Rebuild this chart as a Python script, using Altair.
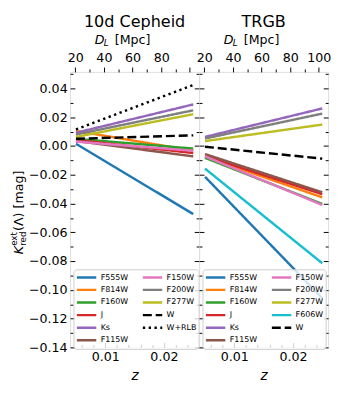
import altair as alt
import pandas as pd

FONT = "DejaVu Sans"

# redshift endpoints of every curve
Z = [0.005, 0.025]

# 10d Cepheid panel
ceph_bands = ["F555W", "F814W", "F160W", "J", "Ks", "F115W", "F150W", "F200W", "F277W", "W", "W+RLB"]
ceph_start = [0.0015, 0.0105, 0.0050, 0.0042, 0.0092, 0.0035, 0.0030, 0.0080, 0.0063, 0.0050, 0.0115]
ceph_end = [-0.0473, -0.0033, -0.0018, -0.0049, 0.0289, -0.0072, -0.0033, 0.0248, 0.0221, 0.0074, 0.0424]

# TRGB panel
trgb_bands = ["F555W", "F814W", "F160W", "J", "Ks", "F115W", "F150W", "F200W", "F277W", "F606W", "W"]
trgb_start = [-0.0214, -0.0075, -0.0082, -0.0070, 0.0063, -0.0056, -0.0072, 0.0052, 0.0034, -0.0157, -0.0005]
trgb_end = [-0.1058, -0.0357, -0.0403, -0.0335, 0.0261, -0.0322, -0.0410, 0.0225, 0.0149, -0.0815, -0.0088]

COLORS = {
    "F555W": "#1f77b4", "F814W": "#ff7f0e", "F160W": "#2ca02c", "J": "#d62728",
    "Ks": "#9467bd", "F115W": "#8c564b", "F150W": "#e377c2", "F200W": "#7f7f7f",
    "F277W": "#bcbd22", "F606W": "#17becf", "W": "#000000", "W+RLB": "#000000",
}
DASHES = {b: [1, 0] for b in COLORS}
DASHES["W"] = [9.25, 4]
DASHES["W+RLB"] = [2.4, 3.6]

# axes
X_DOMAIN = [0.004, 0.026]
Y_DOMAIN = [-0.14, 0.0515]
X_MAJOR = [0.01, 0.02]
X_MINOR = [0.006, 0.008, 0.012, 0.014, 0.016, 0.018, 0.022, 0.024]
Y_MAJOR = [-0.14, -0.12, -0.10, -0.08, -0.06, -0.04, -0.02, 0.0, 0.02, 0.04]
Y_MINOR = [-0.13, -0.11, -0.09, -0.07, -0.05, -0.03, -0.01, 0.01, 0.03, 0.05]
DL_MAJOR = [20, 40, 60, 80, 100]
DL_MINOR = [30, 50, 70, 90]
C_KMS = 299792.458
H0 = 73.2
MPC_PER_Z = C_KMS / H0


def z_of(d):
    return d / MPC_PER_Z


W, H = 133, 284


def make_df(bands, start, end):
    rows = []
    for b, s, e in zip(bands, start, end):
        rows.append({"band": b, "z": Z[0], "k": s})
        rows.append({"band": b, "z": Z[1], "k": e})
    return pd.DataFrame(rows)


def ax(**kw):
    base = dict(domain=False, grid=False, tickColor="black", tickWidth=1,
                labelFont=FONT, labelFontSize=13, labelColor="black", title=None)
    base.update(kw)
    return alt.Axis(**base)


def txt(text, x, y, size=13, baseline="alphabetic", **kw):
    one = pd.DataFrame({"a": [0]})
    return alt.Chart(one).mark_text(text=text, font=FONT, fontSize=size, color="black",
                                    baseline=baseline, **kw).encode(x=alt.value(x), y=alt.value(y))


def panel(df, order, title, left, show100):
    xs = alt.Scale(domain=X_DOMAIN, nice=False, zero=False)
    ys = alt.Scale(domain=Y_DOMAIN, nice=False, zero=False)
    leg = alt.Legend(title=None, orient="none", legendX=3.5, legendY=203.5, columns=2,
                     symbolType="stroke", symbolSize=400, symbolStrokeWidth=2.5,
                     labelFont=FONT, labelFontSize=8.2, labelColor="black", clipHeight=12.4,
                     rowPadding=0, columnPadding=13, padding=2, labelOffset=3,
                     fillColor="rgba(255,255,255,0.8)", strokeColor="#cccccc", cornerRadius=3)
    base = alt.Chart(df)
    lines = base.mark_line(strokeWidth=2.5).encode(
        x=alt.X("z:Q", scale=xs, axis=ax(orient="bottom", values=X_MAJOR, format=".2f", tickSize=5,
                                          offset=-5, labelPadding=4, title="z", titleFont=FONT,
                                          titleFontSize=14, titleFontStyle="italic",
                                          titleFontWeight="normal", titleColor="black", titlePadding=5)),
        y=alt.Y("k:Q", scale=ys, axis=ax(orient="left", values=Y_MAJOR, format=".2f", tickSize=5,
                                          offset=-5, labelPadding=3, labels=left)),
        color=alt.Color("band:N", scale=alt.Scale(domain=order, range=[COLORS[b] for b in order]), legend=leg),
        strokeDash=alt.StrokeDash("band:N", scale=alt.Scale(domain=order, range=[DASHES[b] for b in order]), legend=leg),
    )
    minor = base.mark_line(opacity=0).encode(
        x=alt.X("z:Q", scale=xs, axis=ax(orient="bottom", values=X_MINOR, tickSize=3, offset=-3, labels=False)),
        y=alt.Y("k:Q", scale=ys, axis=ax(orient="left", values=Y_MINOR, tickSize=3, offset=-3, labels=False)),
        detail="band:N",
    )
    lab = ("format(round(datum.value*%f),'d')" % MPC_PER_Z)
    if not show100:
        lab = "datum.value > 0.023 ? '' : " + lab
    top_major = base.mark_line(opacity=0).encode(
        x=alt.X("z:Q", scale=xs, axis=ax(orient="top", values=[z_of(d) for d in DL_MAJOR], tickSize=5,
                                          labelPadding=2.5, labelExpr=lab)),
        y=alt.Y("k:Q", scale=ys, axis=ax(orient="right", values=Y_MAJOR, tickSize=5, offset=-5, labels=False)),
        detail="band:N",
    )
    top_minor = base.mark_line(opacity=0).encode(
        x=alt.X("z:Q", scale=xs, axis=ax(orient="top", values=[z_of(d) for d in DL_MINOR], tickSize=3, labels=False)),
        y=alt.Y("k:Q", scale=ys, axis=ax(orient="right", values=Y_MINOR, tickSize=3, offset=-3, labels=False)),
        detail="band:N",
    )
    texts = [
        txt(title, W / 2, -59, size=16.5, baseline="top", align="center"),
        txt("D", 25.4, -28.7, fontStyle="italic", align="left"),
        txt("L", 34.7, -26.3, size=9, fontStyle="italic", align="left"),
        txt("[Mpc]", 46, -28.7, align="left"),
    ]
    if left:
        texts += [
            txt("K", -48.3, 188, fontStyle="italic", angle=270, align="left"),
            txt("ext", -54.3, 179.3, size=9, angle=270, align="left"),
            txt("red", -45.8, 179.3, size=9, angle=270, align="left"),
            txt("(Λ) [mag]", -48.3, 164, angle=270, align="left"),
        ]
    layers = [lines, minor, top_major, top_minor] + texts
    return alt.layer(*layers).resolve_axis(x="independent", y="independent").properties(width=W, height=H)


left = panel(make_df(ceph_bands, ceph_start, ceph_end), ceph_bands, "10d Cepheid", True, False)
right = panel(make_df(trgb_bands, trgb_start, trgb_end), trgb_bands, "TRGB", False, True)

chart = alt.hconcat(left, right, spacing=0, bounds="flush").resolve_scale(
    color="independent", strokeDash="independent"
).resolve_legend(color="independent", strokeDash="independent").properties(
    padding={"left": 2, "top": 0, "right": 0, "bottom": 0}
).configure_view(stroke="black", strokeWidth=1).configure(font=FONT, background="white")

chart.save("out.html", embed_options={"renderer": "svg", "actions": False})
